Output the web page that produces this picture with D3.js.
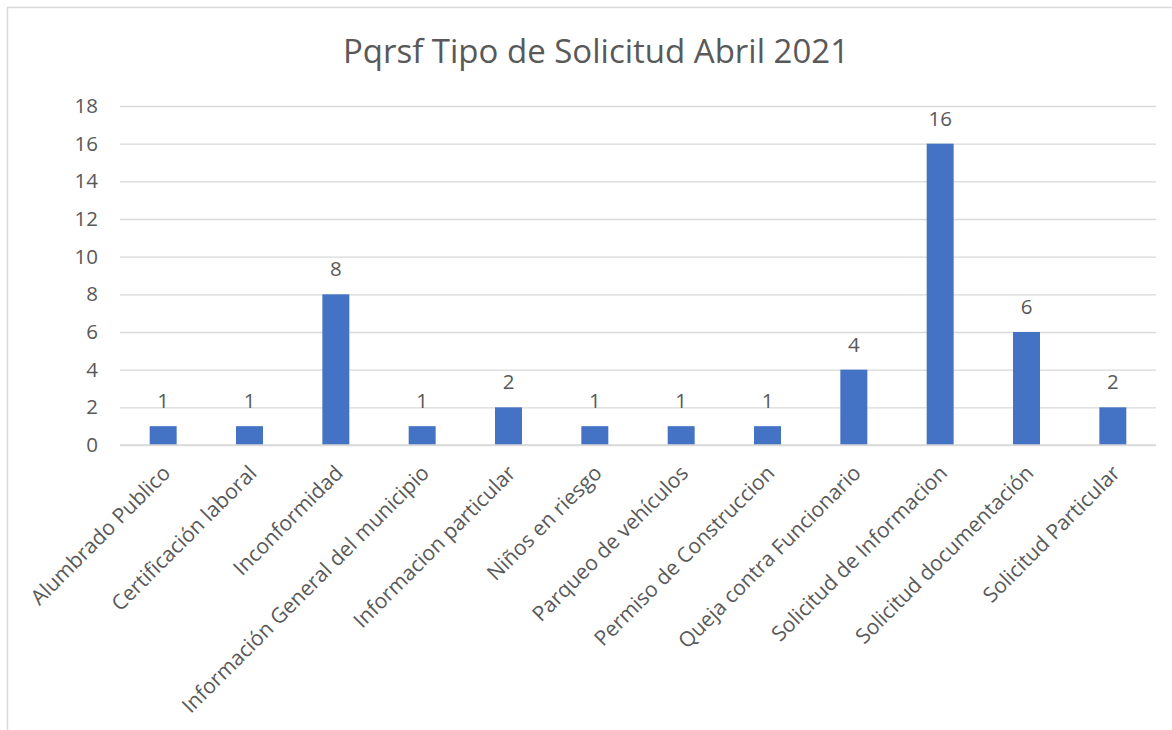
<!DOCTYPE html>
<html>
<head>
<meta charset="utf-8">
<script src="https://cdn.jsdelivr.net/npm/d3@7"></script>
<style>
    body { margin: 0; background: #fff; }
    svg text { font-family: "Open Sans", "Noto Sans", sans-serif; fill: #595959; }
</style>
</head>
<body>
<svg id="chart" width="1172" height="730"></svg>
<script>
(function () {

    var categories = [
        'Alumbrado Publico', 'Certificación laboral', 'Inconformidad',
        'Información General del municipio', 'Informacion particular',
        'Niños en riesgo', 'Parqueo de vehículos', 'Permiso de Construccion',
        'Queja contra Funcionario', 'Solicitud de Informacion',
        'Solicitud documentación', 'Solicitud Particular'
    ];
    var values = [1, 1, 8, 1, 2, 1, 1, 1, 4, 16, 6, 2];
    var yTicks = [0, 2, 4, 6, 8, 10, 12, 14, 16, 18];
    var title = 'Pqrsf Tipo de Solicitud Abril 2021';

    var svg = d3.select('#chart');
    var plot = { left: 120, right: 1156, top: 106, bottom: 445 };

    // chart frame (only top and left edges are inside the picture)
    svg.append('rect')
        .attr('x', 7.5).attr('y', 7.5)
        .attr('width', 1180).attr('height', 740)
        .attr('fill', 'none')
        .attr('stroke', '#d9d9d9')
        .attr('stroke-width', 1.5);

    svg.append('text')
        .attr('x', 596).attr('y', 63)
        .attr('text-anchor', 'middle')
        .style('font-size', '33px')
        .text(title);

    var x = d3.scaleBand()
        .domain(categories)
        .range([plot.left, plot.right])
        .paddingInner(0.6875)
        .paddingOuter(0.34375);

    var y = d3.scaleLinear()
        .domain([0, 18])
        .range([plot.bottom, plot.top]);

    var yAxis = svg.append('g')
        .attr('transform', 'translate(' + plot.left + ',0)')
        .call(d3.axisLeft(y)
            .tickValues(yTicks)
            .tickSize(-(plot.right - plot.left))
            .tickPadding(22));

    yAxis.select('.domain').remove();
    yAxis.selectAll('.tick line')
        .attr('stroke', '#d9d9d9')
        .attr('stroke-width', 1.3);
    yAxis.selectAll('.tick text')
        .style('font-size', '20.5px')
        .attr('fill', '#595959');

    svg.append('g')
        .selectAll('rect')
        .data(values)
        .enter()
        .append('rect')
        .attr('x', function (d, i) { return x(categories[i]); })
        .attr('y', function (d) { return y(d); })
        .attr('width', x.bandwidth())
        .attr('height', function (d) { return y(0) - y(d); })
        .attr('fill', '#4472c4');

    svg.append('g')
        .selectAll('text')
        .data(values)
        .enter()
        .append('text')
        .attr('x', function (d, i) { return x(categories[i]) + x.bandwidth() / 2; })
        .attr('y', function (d) { return y(d) - 18; })
        .attr('text-anchor', 'middle')
        .style('font-size', '20.5px')
        .text(function (d) { return d; });

    // x axis baseline over the zero gridline
    svg.append('line')
        .attr('x1', plot.left).attr('x2', plot.right)
        .attr('y1', y(0)).attr('y2', y(0))
        .attr('stroke', '#d9d9d9')
        .attr('stroke-width', 1.5);

    svg.append('g')
        .selectAll('text')
        .data(categories)
        .enter()
        .append('text')
        .attr('transform', function (d) {
            var cx = x(d) + x.bandwidth() / 2 - 2;
            return 'translate(' + cx + ',' + (plot.bottom + 19) + ') rotate(-45)';
        })
        .attr('text-anchor', 'end')
        .attr('dy', '0.7em')
        .style('font-size', '21px')
        .text(function (d) { return d; });

})();
</script>
</body>
</html>
